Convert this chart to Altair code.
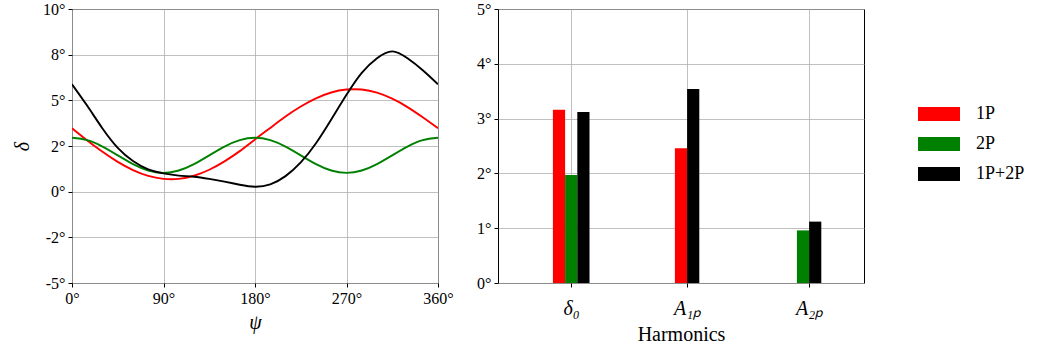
import altair as alt
import pandas as pd

# ---- data ----
PSI = [0, 15, 30, 45, 60, 75, 90, 105, 120, 135, 150, 165, 180,
       195, 210, 225, 240, 255, 270, 285, 300, 315, 330, 345, 360]
DELTA_1P = [3.47, 2.80, 2.18, 1.63, 1.18, 0.86, 0.70, 0.70, 0.87, 1.20, 1.66, 2.22, 2.86,
            3.49, 4.11, 4.66, 5.11, 5.43, 5.59, 5.59, 5.42, 5.09, 4.63, 4.07, 3.47]
DELTA_2P = [2.95, 2.82, 2.47, 1.99, 1.51, 1.16, 1.03, 1.16, 1.51, 1.99, 2.47, 2.82, 2.95,
            2.82, 2.47, 1.99, 1.51, 1.16, 1.03, 1.16, 1.51, 1.99, 2.47, 2.82, 2.95]
DELTA_1P2P = [5.88, 4.70, 3.46, 2.40, 1.68, 1.22, 1.00, 0.88, 0.82, 0.70, 0.55, 0.38, 0.27,
              0.40, 0.85, 1.60, 2.65, 3.95, 5.30, 6.50, 7.30, 7.68, 7.30, 6.65, 5.88]

SERIES = ["1P", "2P", "1P+2P"]
COLORS = ["#ff0000", "#008000", "#000000"]

HARMONICS = ["δ₀", "A₁ₚ", "A₂ₚ"]
BAR_1P = [3.16, 2.46, None]
BAR_2P = [1.97, None, 0.96]
BAR_1P2P = [3.12, 3.54, 1.12]

PSI_TICKS = [0, 90, 180, 270, 360]
LEFT_Y_TICKS = [-5, -2.5, 0, 2.5, 5, 7.5, 10]
LEFT_Y_LABELS = ["-5°", "-2°", "0°", "2°", "5°", "8°", "10°"]
RIGHT_Y_TICKS = [0, 1, 2, 3, 4, 5]

# ---- layout constants ----
GROUP_POS = [0, 0.95, 1.95]
BAR_W = 0.1
FONT = "Liberation Serif"

# ---- tables ----
rows = []
for s, vals in zip(SERIES, [DELTA_1P, DELTA_2P, DELTA_1P2P]):
    for p, v in zip(PSI, vals):
        rows.append({"psi": p, "delta": v, "series": s})
line_df = pd.DataFrame(rows)

bar_rows = []
bar_series = [BAR_1P, BAR_2P, BAR_1P2P]
for i, h in enumerate(HARMONICS):
    present = [(s, vals[i]) for s, vals in zip(SERIES, bar_series) if vals[i] is not None]
    n = len(present)
    for k, (s, v) in enumerate(present):
        c = GROUP_POS[i] + (k - (n - 1) / 2) * BAR_W
        bar_rows.append({"series": s, "x": c - BAR_W / 2, "x2": c + BAR_W / 2,
                         "value": v, "harmonic": h})
bar_df = pd.DataFrame(bar_rows)

color_scale = alt.Scale(domain=SERIES, range=COLORS)

left_label_expr = " : ".join(
    [f"datum.value == {v} ? '{l}'" for v, l in zip(LEFT_Y_TICKS, LEFT_Y_LABELS)]) + " : ''"
right_x_label_expr = " : ".join(
    [f"abs(datum.value - {p}) < 0.01 ? '{h}'" for p, h in zip(GROUP_POS, HARMONICS)]) + " : ''"

left = alt.Chart(line_df).mark_line(strokeWidth=1.9, interpolate="natural", clip=True).encode(
    x=alt.X("psi:Q",
            scale=alt.Scale(domain=[0, 360], nice=False, zero=False),
            axis=alt.Axis(values=PSI_TICKS, labelExpr="datum.value + '°'",
                          title="ψ", titleFontStyle="italic", titlePadding=6)),
    y=alt.Y("delta:Q",
            scale=alt.Scale(domain=[-5, 10], nice=False, zero=False),
            axis=alt.Axis(values=LEFT_Y_TICKS, labelExpr=left_label_expr,
                          title="δ", titleFontStyle="italic", titlePadding=10)),
    color=alt.Color("series:N", scale=color_scale, legend=None),
).properties(width=366, height=274)

right = alt.Chart(bar_df).mark_bar().encode(
    x=alt.X("x:Q",
            scale=alt.Scale(domain=[-0.6, 2.4], nice=False, zero=False),
            axis=alt.Axis(values=GROUP_POS, labelExpr=right_x_label_expr,
                          labelFontStyle="italic", labelFontSize=20, labelPadding=11,
                          title="Harmonics", titlePadding=6)),
    x2="x2:Q",
    y=alt.Y("value:Q",
            scale=alt.Scale(domain=[0, 5], nice=False, zero=True),
            axis=alt.Axis(values=RIGHT_Y_TICKS, labelExpr="datum.value + '°'", title=None)),
    y2=alt.datum(0),
    color=alt.Color("series:N", scale=color_scale,
                    legend=alt.Legend(title=None, orient="none", legendX=420, legendY=84,
                                      symbolType="M-1,-0.33L1,-0.33L1,0.33L-1,0.33Z",
                                      symbolSize=1764, symbolStrokeWidth=0,
                                      labelFont=FONT, labelFontSize=18, labelOffset=16,
                                      rowPadding=0)),
).properties(width=366, height=274)

chart = alt.hconcat(left, right, spacing=22).resolve_scale(color="independent").resolve_legend(
    color="independent"
).properties(
    padding={"left": 12, "top": 0, "right": 5, "bottom": 5},
    background="white",
).configure_view(
    stroke="#000000", strokeWidth=1
).configure_axis(
    domain=False, tickColor="#000000", tickSize=4, tickWidth=1,
    grid=True, gridColor="#b0b0b0", gridWidth=0.8,
    labelFont=FONT, labelFontSize=16, labelColor="#000000", labelFlush=False,
    labelOverlap=False, labelPadding=3,
    titleFont=FONT, titleFontSize=20, titleFontWeight="normal", titleColor="#000000",
)

chart.save("out.html", embed_options={"renderer": "svg", "actions": False})
